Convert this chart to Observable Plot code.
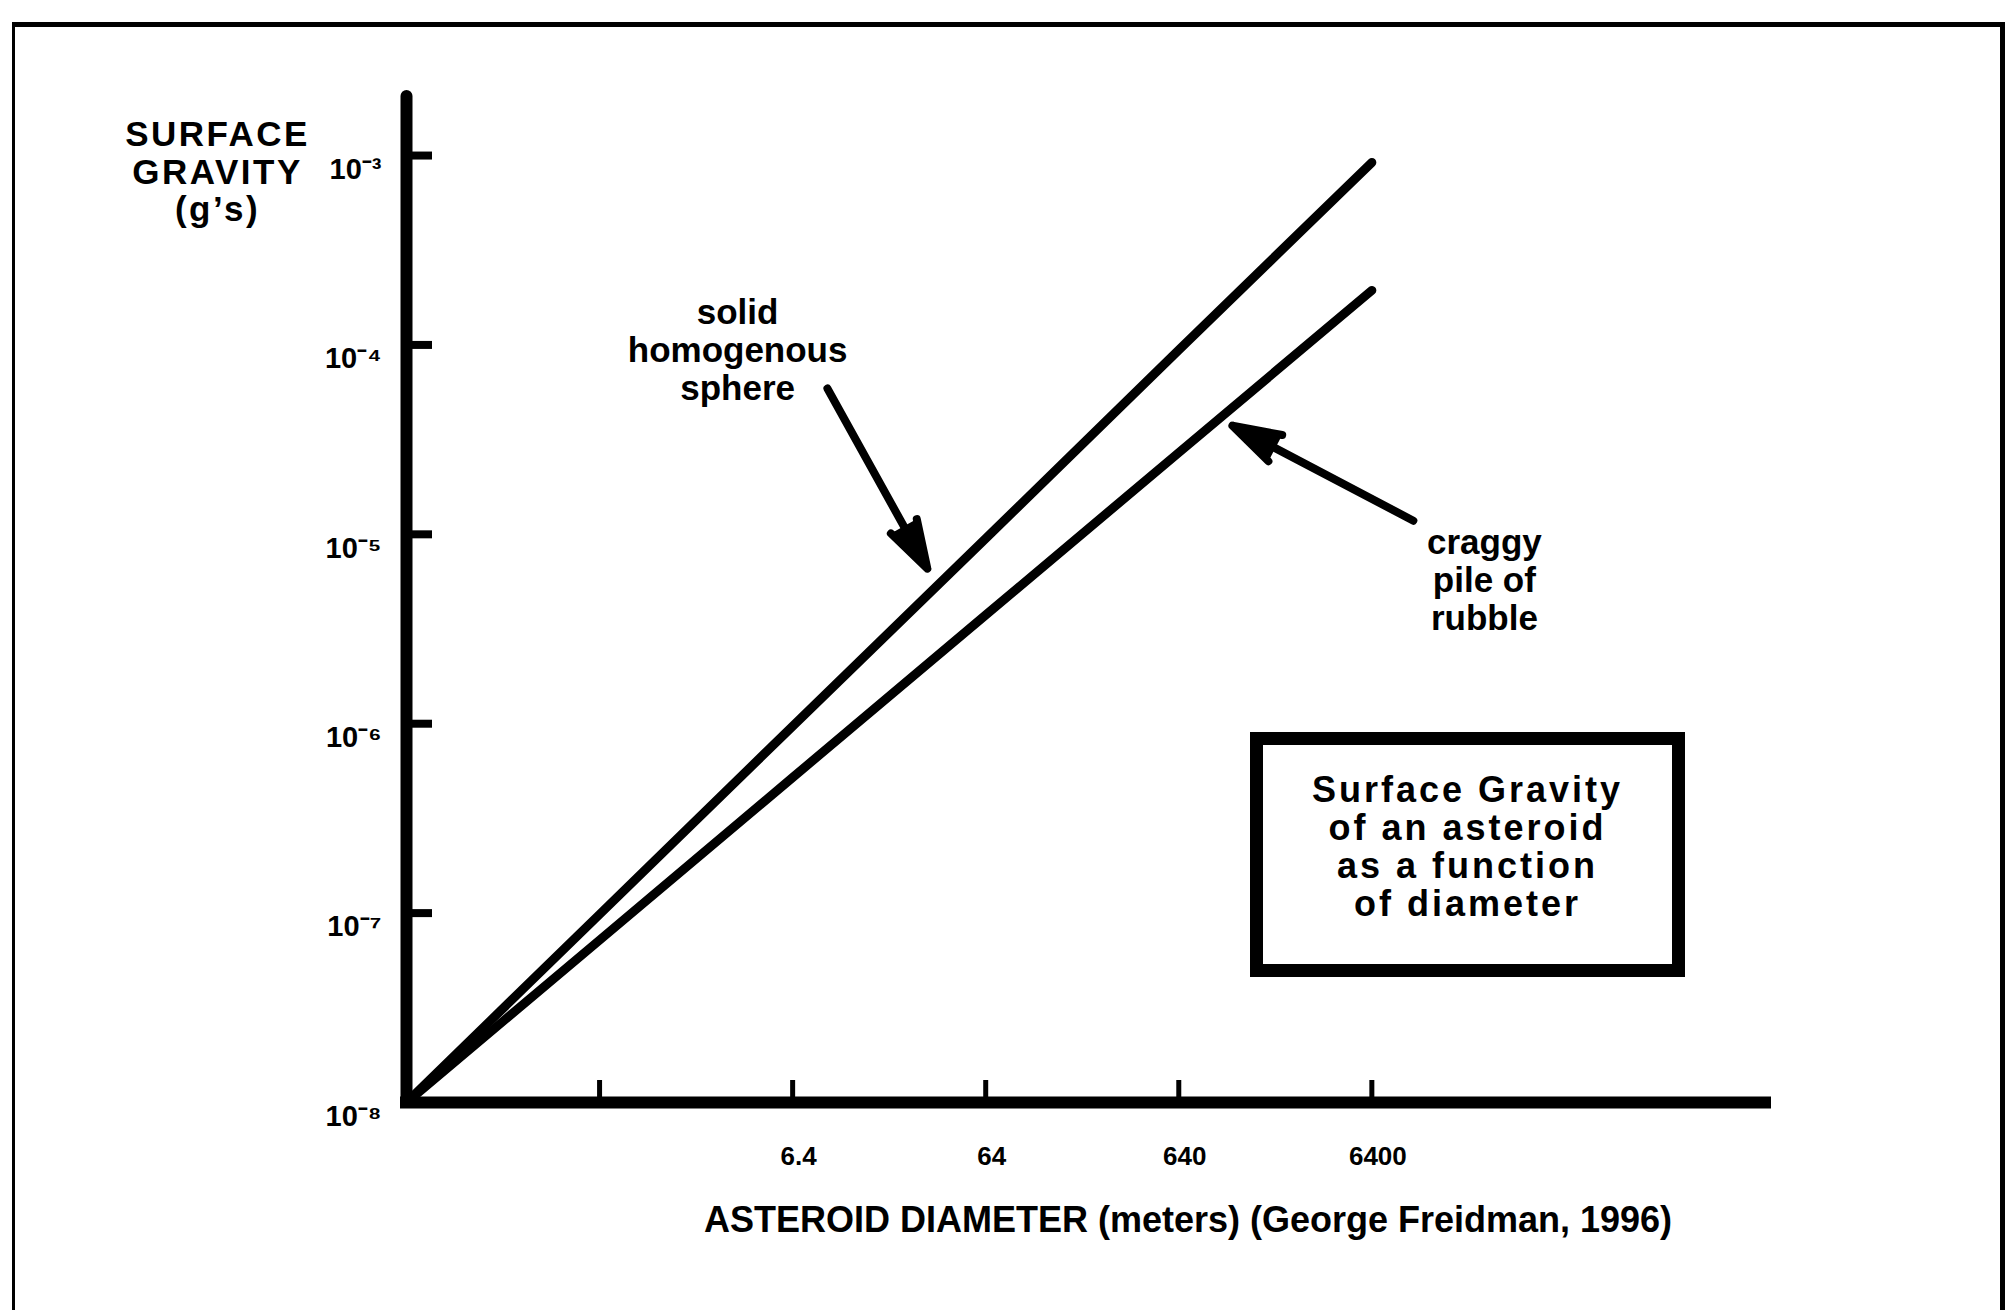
<!DOCTYPE html>
<html><head><meta charset="utf-8">
<script src="https://cdn.jsdelivr.net/npm/d3@7"></script>
<script src="https://cdn.jsdelivr.net/npm/@observablehq/plot@0.6"></script>
<style>
html,body{margin:0;padding:0;background:#fff;}
#wrap{position:relative;width:2010px;height:1310px;overflow:hidden;font-family:"Liberation Sans",Arial,Helvetica,sans-serif;color:#000;}
#chart{position:absolute;left:0;top:0;}
#frame{position:absolute;left:12px;top:22px;width:1993px;height:1320px;border-top:5px solid #000;border-left:3px solid #000;border-right:5px solid #000;box-sizing:border-box;}
#titlebox{position:absolute;left:1250px;top:732px;width:435px;height:245px;box-sizing:border-box;border:13px solid #000;background:#fff;display:flex;align-items:center;justify-content:center;text-align:center;font-weight:bold;font-size:36px;line-height:38px;letter-spacing:3px;padding-bottom:16px;}
</style></head>
<body><div id="wrap"><div id="chart"></div><div id="frame"></div><div id="titlebox"><div>Surface Gravity<br>of an asteroid<br>as a function<br>of diameter</div></div></div>
<script>
// ---- data ----
const diameters = [0.064, 0.64, 6.4, 64, 640, 6400];              // metres
const sphereG   = [1e-8, 9.85e-8, 9.7e-7, 9.5e-6, 9.4e-5, 9.2e-4]; // g's, solid homogenous sphere
const rubbleG   = [1e-8, 7.2e-8, 5.2e-7, 3.75e-6, 2.7e-5, 1.94e-4]; // g's, craggy pile of rubble
const xTickValues = [0.64, 6.4, 64, 640, 6400];
const xTickLabels = ["", "6.4", "64", "640", "6400"];
const yTickValues = [1e-8, 1e-7, 1e-6, 1e-5, 1e-4, 1e-3];
const yTickLabels = ["10⁻⁸", "10⁻⁷", "10⁻⁶", "10⁻⁵", "10⁻⁴", "10⁻³"];
const xDomain = [0.064, 7e5];
const yDomain = [1e-8, 2.05e-3];
const yTitle = "SURFACE\nGRAVITY\n(g’s)";
const xTitle = "ASTEROID DIAMETER (meters) (George Freidman, 1996)";
const annotationLabels = ["solid\nhomogenous\nsphere", "craggy\npile of\nrubble"];
const annotationX = [3.32, 24490];
const annotationY = [9.46e-5, 5.77e-6];
const arrowFromX = [9.69, 10500];
const arrowFromY = [5.89e-5, 1.18e-5];
const arrowToX   = [31.9, 1213];
const arrowToY   = [6.59e-6, 3.75e-5];

// ---- tables built from the arrays ----
const sphere = diameters.map((d, i) => ({d, g: sphereG[i]}));
const rubble = diameters.map((d, i) => ({d, g: rubbleG[i]}));
const xTicks = xTickValues.map((v, i) => ({v, label: xTickLabels[i]}));
const yTicks = yTickValues.map((v, i) => ({v, label: yTickLabels[i]}));
const notes = annotationLabels.map((t, i) => ({t, x: annotationX[i], y: annotationY[i]}));
const arrows = arrowFromX.map((x1, i) => ({x1, y1: arrowFromY[i], x2: arrowToX[i], y2: arrowToY[i]}));

const W = 2010, H = 1310, mL = 406, mR = 245, mT = 96, mB = 208;
const frameW = W - mL - mR, frameH = H - mT - mB;
const bold = {fontWeight: "bold"};

const chart = Plot.plot({
  width: W, height: H,
  marginLeft: mL, marginRight: mR, marginTop: mT, marginBottom: mB,
  x: {type: "log", domain: xDomain, axis: null},
  y: {type: "log", domain: yDomain, axis: null},
  style: {background: "#fff", fontFamily: "'Liberation Sans', Arial, Helvetica, sans-serif", color: "#000"},
  marks: [
    // axes
    Plot.ruleX([xDomain[0]], {stroke: "#000", strokeWidth: 12, strokeLinecap: "round"}),
    Plot.ruleY([yDomain[0]], {stroke: "#000", strokeWidth: 12, strokeLinecap: "square"}),
    Plot.tickY(yTicks.slice(1), {y: "v", stroke: "#000", strokeWidth: 8, insetRight: frameW - 26}),
    Plot.tickX(xTicks, {x: "v", stroke: "#000", strokeWidth: 5, insetTop: frameH - 22}),
    Plot.text(yTicks, {y: "v", text: "label", frameAnchor: "left", textAnchor: "end", dx: -25, dy: 14, fontSize: 29, ...bold}),
    Plot.text(xTicks, {x: "v", text: "label", frameAnchor: "bottom", dx: 6, dy: 62, fontSize: 26, ...bold}),
    Plot.text([yTitle], {frameAnchor: "top-left", textAnchor: "middle", lineAnchor: "top", dx: -189, dy: 23, fontSize: 35, lineHeight: 1.07, ...bold}),
    Plot.text([xTitle], {frameAnchor: "bottom", textAnchor: "middle", dx: 102, dy: 129, fontSize: 36, ...bold}),
    // series
    Plot.line(sphere, {x: "d", y: "g", stroke: "#000", strokeWidth: 9, strokeLinecap: "round"}),
    Plot.line(rubble, {x: "d", y: "g", stroke: "#000", strokeWidth: 9, strokeLinecap: "round"}),
    // annotations
    Plot.text(notes, {x: "x", y: "y", text: "t", textAnchor: "middle", fontSize: 35, lineHeight: 1.086, ...bold}),
    Plot.arrow(arrows, {x1: "x1", y1: "y1", x2: "x2", y2: "y2", stroke: "#000", fill: "#000", strokeWidth: 8, headLength: 9.5, headAngle: 34, strokeLinejoin: "miter"})
  ]
});
// widen the y-axis title's letters a little, as in the scan
d3.select(chart).selectAll("text")
  .filter(function() { return this.textContent.startsWith("SURFACE"); })
  .style("letter-spacing", "2.5px");
document.getElementById("chart").appendChild(chart);
</script>
</body></html>
